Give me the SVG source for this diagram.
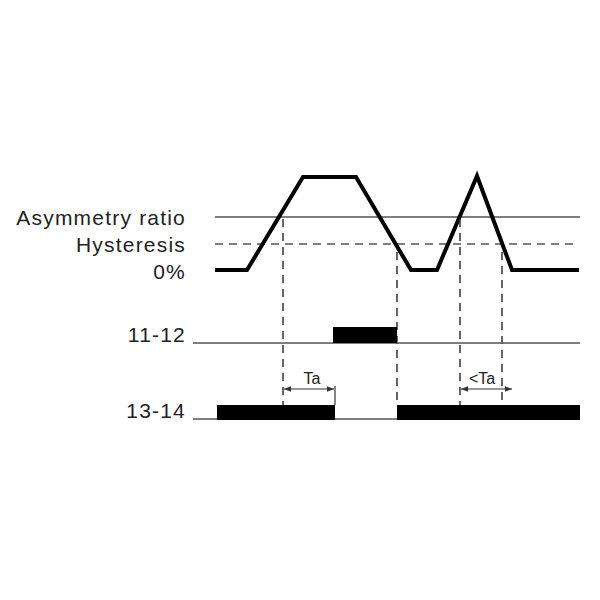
<svg xmlns="http://www.w3.org/2000/svg" width="600" height="600" viewBox="0 0 600 600">
<defs>
<style>
.lbl{font-family:"Liberation Sans",Arial,sans-serif;font-size:21px;fill:#222;letter-spacing:1.2px;text-anchor:end}
.sm{font-family:"Liberation Sans",Arial,sans-serif;font-size:16px;fill:#222;text-anchor:middle}
.thin{stroke:#555;stroke-width:1.5;fill:none}
.dash{stroke:#555;stroke-width:1.5;fill:none;stroke-dasharray:8 6}
.vdash{stroke:#333;stroke-width:1.5;fill:none;stroke-dasharray:8 6}
.wave{stroke:#000;stroke-width:4;fill:none;stroke-linejoin:miter}
.bar{fill:#000}
.arr{stroke:#333;stroke-width:1.2;fill:none;marker-start:url(#ah);marker-end:url(#ah)}
</style>
<marker id="ah" viewBox="0 0 10 10" refX="10" refY="5" markerWidth="7" markerHeight="7" orient="auto-start-reverse" markerUnits="userSpaceOnUse">
<path d="M0,1 L10,5 L0,9 z" fill="#333"/>
</marker>
</defs>
<g id="labels">
<text class="lbl" x="186" y="225">Asymmetry ratio</text>
<text class="lbl" x="186" y="252">Hysteresis</text>
<text class="lbl" x="186" y="279">0%</text>
<text class="lbl" x="186" y="342">11-12</text>
<text class="lbl" x="186" y="418">13-14</text>
</g>
<g id="thresholds">
<line class="thin" x1="215" y1="217" x2="580" y2="217"/>
<line class="dash" x1="215" y1="244" x2="578" y2="244"/>
</g>
<g id="waveform">
<polyline class="wave" points="215,270 247,270 303,177 356,177 411,270 437,270 477,176 512,270 579,270"/>
</g>
<g id="connectors">
<line class="vdash" x1="283" y1="219" x2="283" y2="405"/>
<line class="vdash" x1="397" y1="252" x2="397" y2="405"/>
<line class="vdash" x1="460" y1="219" x2="460" y2="405"/>
<line class="vdash" x1="502" y1="252" x2="502" y2="405"/>
<line class="arr" x1="284" y1="389" x2="334" y2="389"/>
<line class="arr" x1="461" y1="389" x2="512" y2="389"/>
<line stroke="#333" stroke-width="1.2" x1="335" y1="386" x2="335" y2="405"/>
</g>
<g id="relay-11-12">
<line class="thin" x1="193" y1="343" x2="580" y2="343"/>
<rect class="bar" x="333" y="327" width="64" height="16"/>
</g>
<g id="relay-13-14">
<line class="thin" x1="193" y1="419" x2="580" y2="419"/>
<rect class="bar" x="217" y="405" width="118" height="15"/>
<rect class="bar" x="397" y="405" width="183" height="15"/>
</g>
<g id="time-labels">
<text class="sm" x="312" y="384">Ta</text>
<text class="sm" x="482" y="384">&lt;Ta</text>
</g>
</svg>
